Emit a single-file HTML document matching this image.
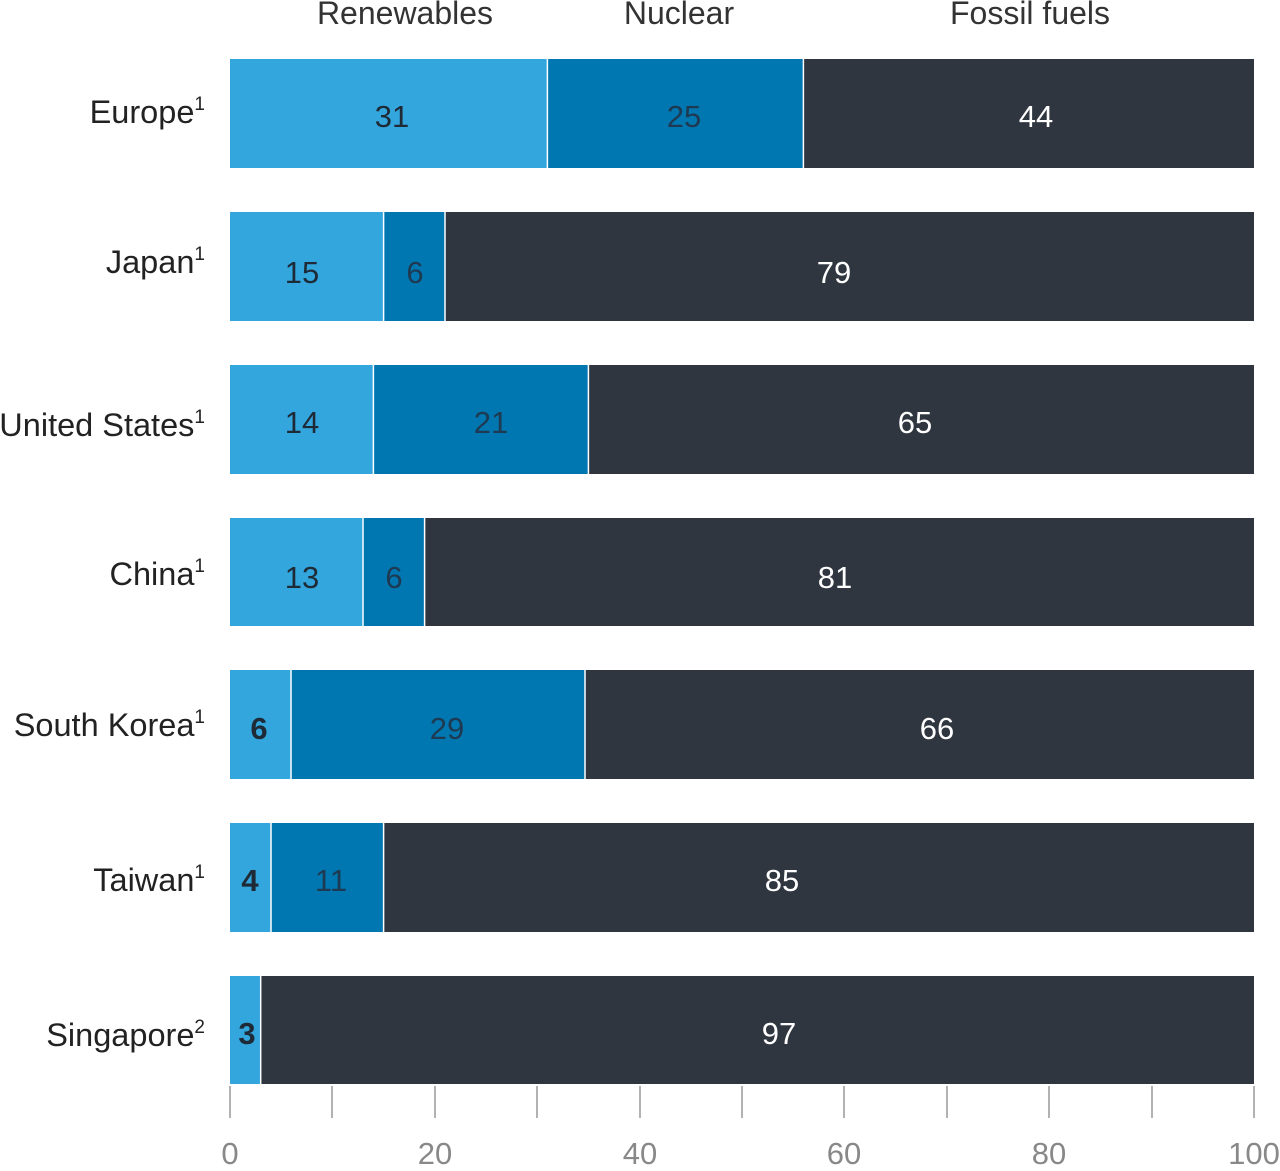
<!DOCTYPE html>
<html><head><meta charset="utf-8"><style>
html,body{margin:0;padding:0;background:#fff;}
body{width:1280px;height:1166px;position:relative;overflow:hidden;}
</style></head><body>
<svg width="1280" height="1166" xmlns="http://www.w3.org/2000/svg" font-family="Liberation Sans, sans-serif">
<g font-size="32" fill="#333" text-anchor="middle">
<text x="405" y="24">Renewables</text>
<text x="679" y="24">Nuclear</text>
<text x="1030" y="24">Fossil fuels</text>
</g>
<g>
<rect x="230" y="59" width="317.4" height="109" fill="#33a6de"/>
<rect x="547.4" y="59" width="256" height="109" fill="#0077b0"/>
<rect x="803.4" y="59" width="450.6" height="109" fill="#2f3640"/>

<rect x="230" y="212" width="153.6" height="109" fill="#33a6de"/>
<rect x="383.6" y="212" width="61.4" height="109" fill="#0077b0"/>
<rect x="445" y="212" width="809" height="109" fill="#2f3640"/>

<rect x="230" y="365" width="143.4" height="109" fill="#33a6de"/>
<rect x="373.4" y="365" width="215" height="109" fill="#0077b0"/>
<rect x="588.4" y="365" width="665.6" height="109" fill="#2f3640"/>

<rect x="230" y="518" width="133" height="108" fill="#33a6de"/>
<rect x="363" y="518" width="61.6" height="108" fill="#0077b0"/>
<rect x="424.6" y="518" width="829.4" height="108" fill="#2f3640"/>

<rect x="230" y="670" width="61" height="109" fill="#33a6de"/>
<rect x="291" y="670" width="294" height="109" fill="#0077b0"/>
<rect x="585" y="670" width="669" height="109" fill="#2f3640"/>

<rect x="230" y="823" width="41" height="109" fill="#33a6de"/>
<rect x="271" y="823" width="112.6" height="109" fill="#0077b0"/>
<rect x="383.6" y="823" width="870.4" height="109" fill="#2f3640"/>

<rect x="230" y="976" width="30.7" height="108" fill="#33a6de"/>
<rect x="260.7" y="976" width="993.3" height="108" fill="#2f3640"/>
</g>
<g stroke="#fff" stroke-width="1.5">
<line x1="547.4" y1="59" x2="547.4" y2="168"/><line x1="803.4" y1="59" x2="803.4" y2="168"/>
<line x1="383.6" y1="212" x2="383.6" y2="321"/><line x1="445" y1="212" x2="445" y2="321"/>
<line x1="373.4" y1="365" x2="373.4" y2="474"/><line x1="588.4" y1="365" x2="588.4" y2="474"/>
<line x1="363" y1="518" x2="363" y2="626"/><line x1="424.6" y1="518" x2="424.6" y2="626"/>
<line x1="291" y1="670" x2="291" y2="779"/><line x1="585" y1="670" x2="585" y2="779"/>
<line x1="271" y1="823" x2="271" y2="932"/><line x1="383.6" y1="823" x2="383.6" y2="932"/>
<line x1="260.7" y1="976" x2="260.7" y2="1084"/>
</g>
<g font-size="31" text-anchor="middle">
<g fill="#1e2a36">
<text x="392" y="127">31</text><text x="302" y="283">15</text><text x="302" y="433">14</text><text x="302" y="588">13</text>
<text x="259" y="739" font-weight="bold">6</text><text x="250" y="891" font-weight="bold">4</text><text x="247" y="1044" font-weight="bold">3</text>
</g>
<g fill="#1e3a52">
<text x="684" y="127">25</text><text x="415" y="283">6</text><text x="491" y="433">21</text><text x="394" y="588">6</text>
<text x="447" y="739">29</text><text x="331" y="891">11</text>
</g>
<g fill="#fff">
<text x="1036" y="127">44</text><text x="834" y="283">79</text><text x="915" y="433">65</text><text x="835" y="588">81</text>
<text x="937" y="739">66</text><text x="782" y="891">85</text><text x="779" y="1044">97</text>
</g>
</g>
<g font-size="32.5" fill="#222" text-anchor="end">
<text x="205" y="123">Europe<tspan font-size="19" dy="-13">1</tspan></text>
<text x="205" y="273">Japan<tspan font-size="19" dy="-13">1</tspan></text>
<text x="205" y="436">United States<tspan font-size="19" dy="-13">1</tspan></text>
<text x="205" y="585">China<tspan font-size="19" dy="-13">1</tspan></text>
<text x="205" y="736">South Korea<tspan font-size="19" dy="-13">1</tspan></text>
<text x="205" y="891">Taiwan<tspan font-size="19" dy="-13">1</tspan></text>
<text x="205" y="1046">Singapore<tspan font-size="19" dy="-13">2</tspan></text>
</g>
<g stroke="#999" stroke-width="1.5">
<line x1="230" y1="1086" x2="230" y2="1118"/><line x1="332" y1="1086" x2="332" y2="1118"/>
<line x1="435" y1="1086" x2="435" y2="1118"/><line x1="537" y1="1086" x2="537" y2="1118"/>
<line x1="640" y1="1086" x2="640" y2="1118"/><line x1="742" y1="1086" x2="742" y2="1118"/>
<line x1="844" y1="1086" x2="844" y2="1118"/><line x1="947" y1="1086" x2="947" y2="1118"/>
<line x1="1049" y1="1086" x2="1049" y2="1118"/><line x1="1152" y1="1086" x2="1152" y2="1118"/>
<line x1="1254" y1="1086" x2="1254" y2="1118"/>
</g>
<g font-size="31" fill="#888" text-anchor="middle">
<text x="230" y="1164">0</text><text x="435" y="1164">20</text><text x="640" y="1164">40</text>
<text x="844" y="1164">60</text><text x="1049" y="1164">80</text><text x="1254" y="1164">100</text>
</g>
</svg>
</body></html>
